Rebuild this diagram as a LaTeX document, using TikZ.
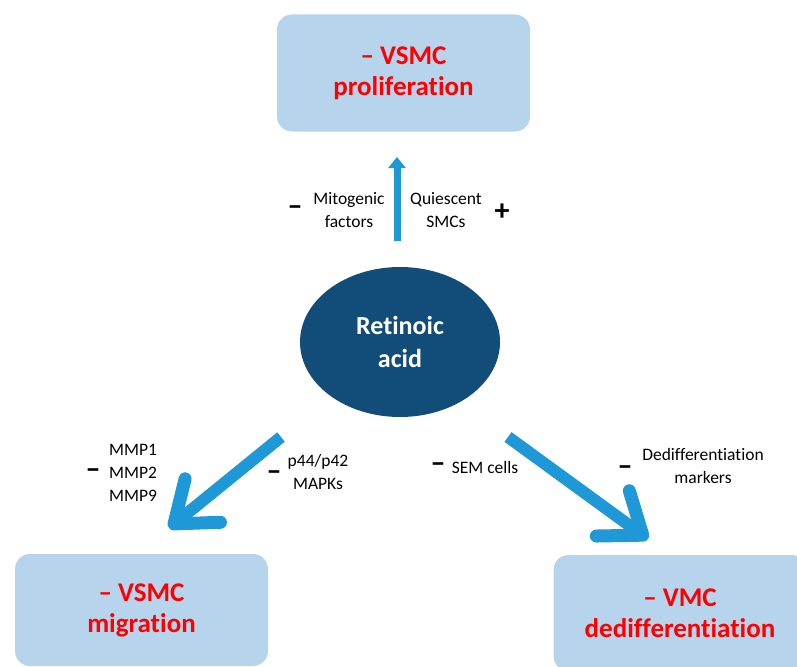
\documentclass[tikz,border=0pt]{standalone}
\usepackage{fontspec}
\setmainfont{Carlito}[Ligatures=NoCommon]
\usetikzlibrary{arrows.meta,shapes.geometric}
\definecolor{boxblue}{RGB}{182,212,236}
\definecolor{nucblue}{RGB}{18,76,121}
\definecolor{arrblue}{RGB}{30,152,214}
\tikzstyle{effect}=[rectangle,rounded corners=15pt,fill=boxblue,minimum width=253pt,text=red,font=\fontsize{27}{31}\selectfont\bfseries,align=center]
\tikzstyle{agent}=[ellipse,fill=nucblue,minimum width=200pt,minimum height=150pt,text=white,font=\fontsize{26}{33}\selectfont\bfseries,align=center]
\tikzstyle{lbl}=[font=\fontsize{17.5}{23}\selectfont,align=center,inner sep=0pt]
\tikzstyle{sgn}=[font=\fontsize{30}{30}\selectfont\bfseries,inner sep=0pt]
\tikzstyle{bigarr}=[-{Straight Barb[length=37pt,width=56pt,line width=13pt,line cap=round,line join=round]},line width=12pt,draw=arrblue]
\tikzstyle{smallarr}=[-{Triangle[length=11pt,width=17pt]},line width=7pt,draw=arrblue]

\begin{document}
\begin{tikzpicture}[x=1pt,y=-1pt]
\clip (0,0) rectangle (797,666);
% outcomes
\node[effect,minimum height=117pt] (P) at (403.5,73) {– VSMC\\proliferation};
\node[effect,minimum height=112pt] (M) at (141.5,610) {– VSMC\\migration};
\node[effect,minimum height=116pt] (D) at (680,613) {– VMC\\dedifferentiation};
% center
\node[agent] (RA) at (400,342) {Retinoic\\acid};
% arrows
\coordinate (pS) at (397,241);
\coordinate (pE) at (397,157);
\coordinate (mS) at (281,437);
\coordinate (mE) at (169,528);
\coordinate (dS) at (508,437);
\coordinate (dE) at (648,539);
\draw[smallarr] (pS)--(pE);
\draw[bigarr] (mS)--(mE);
\draw[bigarr] (dS)--(dE);
% mediators
\node[sgn] (m1) at (295,211) {–};
\node[lbl] (mito) at (349,210) {Mitogenic\\factors};
\node[lbl] (quie) at (446,210) {Quiescent\\SMCs};
\node[sgn] (p1) at (502,212) {+};
\node[sgn] (m2) at (93,474) {–};
\node[lbl] (mmp) at (133,473) {MMP1\\MMP2\\MMP9};
\node[sgn] (m3) at (274,476) {–};
\node[lbl] (mapk) at (318,472) {p44/p42\\MAPKs};
\node[sgn] (m4) at (438,468) {–};
\node[lbl] (sem) at (485,467) {SEM cells};
\node[sgn] (m5) at (625,471) {–};
\node[lbl] (dedm) at (703,466) {Dedifferentiation\\markers};
\end{tikzpicture}
\end{document}
